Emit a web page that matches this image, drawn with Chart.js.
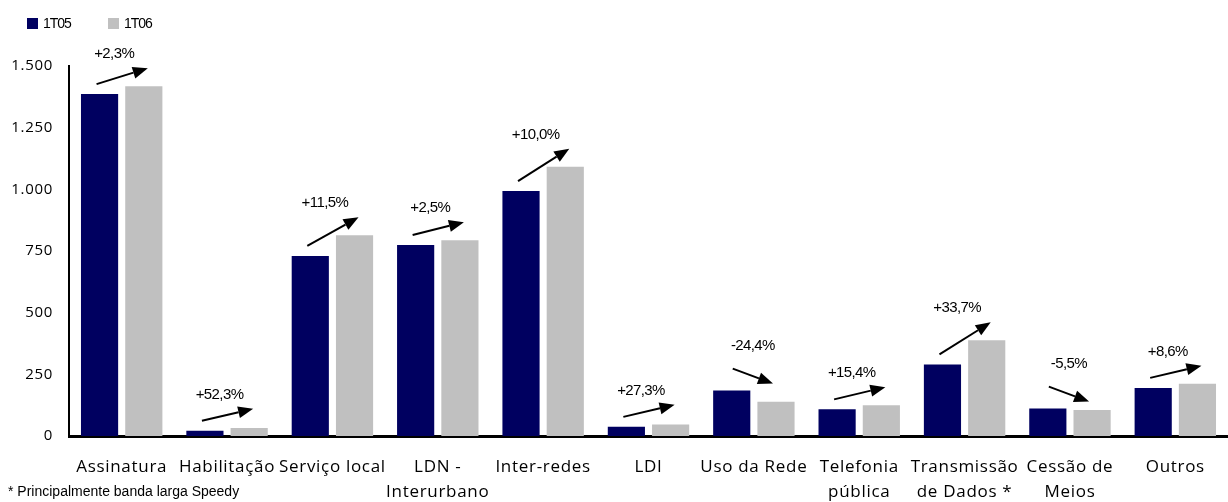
<!DOCTYPE html>
<html>
<head>
<meta charset="utf-8">
<script src="https://cdn.jsdelivr.net/npm/chart.js@4.4.1/dist/chart.umd.min.js"></script>
<style>
  html, body { margin: 0; padding: 0; background: #fff; }
  #wrap { width: 1228px; height: 502px; position: relative; }
</style>
</head>
<body>
<div id="wrap"><canvas id="myChart" width="1228" height="502"></canvas></div>
<script>
// categories (multi-line labels as arrays)
const categories = [
  "Assinatura", "Habilitação", "Serviço local", ["LDN -", "Interurbano"], "Inter-redes",
  "LDI", "Uso da Rede", ["Telefonia", "pública"], ["Transmissão", "de Dados *"],
  ["Cessão de", "Meios"], "Outros"
];
const seriesNames = ["1T05", "1T06"];
const values1T05 = [1386, 21, 730, 774, 993, 37, 184, 108, 290, 111, 195];
const values1T06 = [1418, 32, 814, 794, 1092, 47, 139, 125, 388, 105, 212];
const changes = ["+2,3%", "+52,3%", "+11,5%", "+2,5%", "+10,0%", "+27,3%", "-24,4%", "+15,4%", "+33,7%", "-5,5%", "+8,6%"];
const yTicks = [0, 250, 500, 750, 1000, 1250, 1500];
const footnote = "* Principalmente banda larga Speedy";
const colors = ["#000060", "#c0c0c0"];

const fmt = v => String(v).replace(/\B(?=(\d{3})+(?!\d))/g, ".");
const ARIAL = "'Liberation Sans', Arial, sans-serif";

function arrow(ctx, x1, y1, x2, y2) {
  const ang = Math.atan2(y2 - y1, x2 - x1);
  const hl = 15, hw = 6;
  const bx = x2 - hl * Math.cos(ang), by = y2 - hl * Math.sin(ang);
  ctx.beginPath();
  ctx.moveTo(x1, y1);
  ctx.lineTo(bx, by);
  ctx.stroke();
  ctx.beginPath();
  ctx.moveTo(x2, y2);
  ctx.lineTo(bx + hw * Math.sin(ang), by - hw * Math.cos(ang));
  ctx.lineTo(bx - hw * Math.sin(ang), by + hw * Math.cos(ang));
  ctx.closePath();
  ctx.fill();
}

// axis text in the original is a bit spaced out
const spacing = {
  id: "spacing",
  beforeLayout(chart) { chart.ctx.letterSpacing = "0.7px"; },
  beforeDraw(chart) { chart.ctx.letterSpacing = "0.7px"; }
};

// percentage arrows, legend and footnote
const extras = {
  id: "extras",
  afterDatasetsDraw(chart) {
    const ctx = chart.ctx;
    const m0 = chart.getDatasetMeta(0).data;
    const m1 = chart.getDatasetMeta(1).data;
    ctx.save();
    ctx.letterSpacing = "-0.6px";
    ctx.strokeStyle = "#000";
    ctx.fillStyle = "#000";
    ctx.lineWidth = 2;
    ctx.font = "15px " + ARIAL;
    ctx.textAlign = "center";
    ctx.textBaseline = "middle";
    changes.forEach((txt, i) => {
      const a = m0[i], b = m1[i];
      let x1, x2, y1, y2;
      if (values1T06[i] >= values1T05[i]) {
        x1 = a.x - 3; x2 = b.x + 4;
        y1 = a.y - 10;
        y2 = Math.min(b.y - 18, y1 - 12);
        ctx.fillText(txt, (x1 + x2) / 2 - 8, y2 - 14);
      } else {
        x1 = a.x + 1; x2 = b.x - 3;
        y1 = a.y - 22;
        y2 = y1 + 15;
        ctx.fillText(txt, (x1 + x2) / 2, y1 - 23);
      }
      arrow(ctx, x1, y1, x2, y2);
    });

    // legend
    ctx.textAlign = "left";
    ctx.font = "14px " + ARIAL;
    ctx.letterSpacing = "-1px";
    seriesNames.forEach((name, i) => {
      const x = 27 + i * 81;
      ctx.fillStyle = colors[i];
      ctx.fillRect(x, 18, 11, 11);
      ctx.fillStyle = "#000";
      ctx.fillText(name, x + 16, 24);
    });

    ctx.letterSpacing = "0px";
    ctx.font = "14px " + ARIAL;
    ctx.fillText(footnote, 8, 492);
    ctx.restore();
  }
};

const ctx = document.getElementById("myChart").getContext("2d");
new Chart(ctx, {
  type: "bar",
  data: {
    labels: categories,
    datasets: [
      { label: seriesNames[0], data: values1T05, backgroundColor: colors[0] },
      { label: seriesNames[1], data: values1T06, backgroundColor: colors[1] }
    ]
  },
  options: {
    responsive: false,
    animation: false,
    barPercentage: 0.84,
    categoryPercentage: 0.84,
    layout: { padding: { left: 8, right: 0, top: 66, bottom: 0 } },
    plugins: {
      legend: { display: false },
      tooltip: { enabled: false }
    },
    scales: {
      x: {
        afterFit: s => { s.height = 66; },
        grid: { display: false },
        border: { display: true, color: "#000", width: 3 },
        ticks: {
          color: "#000", maxRotation: 0, autoSkip: false, padding: 10,
          font: { family: "'Open Sans', sans-serif", size: 17, lineHeight: 1.5 }
        }
      },
      y: {
        min: 0, max: 1500,
        afterFit: s => { s.width = 61; },
        afterBuildTicks: s => { s.ticks = yTicks.map(v => ({ value: v })); },
        grid: { display: false },
        border: { display: true, color: "#000", width: 2 },
        ticks: {
          color: "#000", padding: 8,
          font: { family: "'Open Sans', sans-serif", size: 15 },
          callback: v => fmt(v)
        }
      }
    }
  },
  plugins: [spacing, extras]
});
</script>
</body>
</html>
